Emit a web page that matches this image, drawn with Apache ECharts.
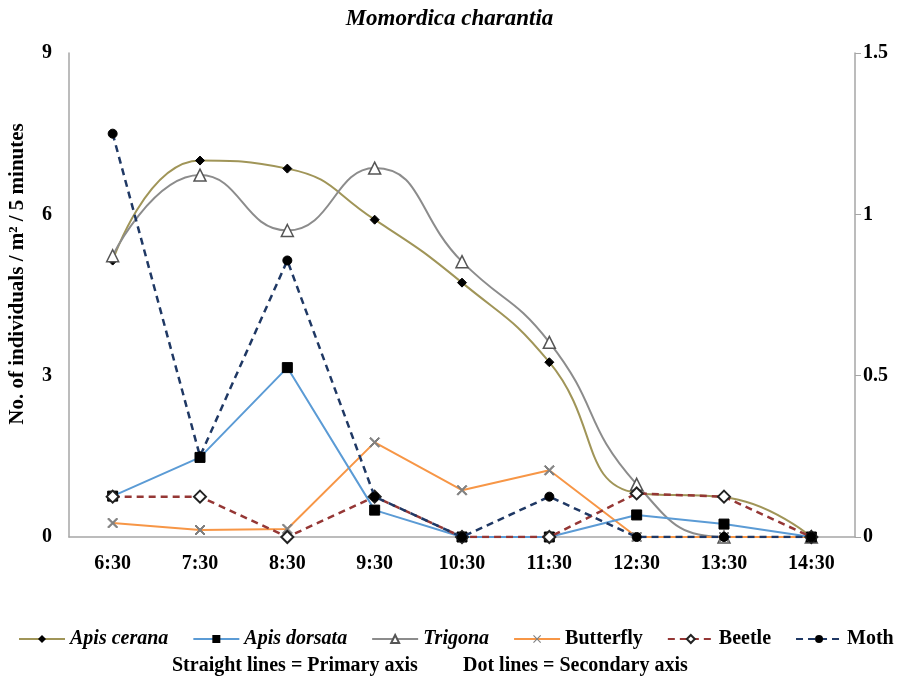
<!DOCTYPE html>
<html>
<head>
<meta charset="utf-8">
<script src="https://cdn.jsdelivr.net/npm/echarts@6/dist/echarts.min.js"></script>
<style>
  html, body { margin: 0; padding: 0; background: #fff; }
  #chart { width: 899px; height: 684px; }
</style>
</head>
<body>
<div id="chart"></div>
<script>
var times = ['6:30', '7:30', '8:30', '9:30', '10:30', '11:30', '12:30', '13:30', '14:30'];

// primary axis (solid lines)
var apisCerana = [5.14, 7.0, 6.85, 5.9, 4.73, 3.25, 0.82, 0.74, 0];
var apisDorsata = [0.76, 1.48, 3.15, 0.5, 0, 0, 0.41, 0.24, 0];
var trigona = [5.23, 6.73, 5.7, 6.86, 5.12, 3.62, 0.98, 0, 0];
var butterfly = [0.26, 0.13, 0.15, 1.76, 0.87, 1.24, 0, 0, 0];

// secondary axis (dashed lines)
var beetle = [0.125, 0.125, 0, 0.125, 0, 0, 0.135, 0.125, 0];
var moth = [1.25, 0.25, 0.857, 0.125, 0, 0.125, 0, 0, 0];

var serif = '"Liberation Serif", "DejaVu Serif", serif';
var crossPath = 'path://M1,0L5,4L9,0L10,1L6,5L10,9L9,10L5,6L1,10L0,9L4,5L0,1Z';

var myChart = echarts.init(document.getElementById('chart'));
var option = {
    animation: false,
    title: {
        text: 'Momordica charantia',
        left: 'center',
        top: 3,
        textStyle: { fontFamily: serif, fontSize: 23, fontWeight: 'bold', fontStyle: 'italic', color: '#000' }
    },
    grid: { left: 69, right: 44, top: 53, bottom: 147 },
    legend: {
        bottom: 30,
        left: 13,
        width: 886,
        itemWidth: 46,
        itemHeight: 10,
        itemGap: 24,
        data: ['Apis cerana', 'Apis dorsata', 'Trigona', 'Butterfly', 'Beetle', 'Moth'],
        formatter: function (name) {
            if (name === 'Butterfly' || name === 'Beetle' || name === 'Moth') return '{b|' + name + '}';
            return '{i|' + name + '}';
        },
        textStyle: {
            fontFamily: serif, fontSize: 20, fontWeight: 'bold', color: '#000',
            rich: {
                i: { fontFamily: serif, fontSize: 20, fontWeight: 'bold', fontStyle: 'italic', color: '#000' },
                b: { fontFamily: serif, fontSize: 20, fontWeight: 'bold', color: '#000' }
            }
        }
    },
    graphic: [
        { type: 'text', left: 172, top: 656, style: { text: 'Straight lines = Primary axis', font: 'bold 20px ' + serif, fill: '#000' } },
        { type: 'text', left: 463, top: 656, style: { text: 'Dot lines = Secondary axis', font: 'bold 20px ' + serif, fill: '#000' } },
        {
            type: 'text', x: 18, y: 274, rotation: Math.PI / 2,
            style: { text: 'No. of individuals / m² / 5 minutes', font: 'bold 21px ' + serif, fill: '#000', align: 'center', verticalAlign: 'middle' }
        }
    ],
    xAxis: {
        type: 'category',
        data: times,
        boundaryGap: true,
        axisLine: { lineStyle: { color: '#a6a6a6', width: 1.5 } },
        axisTick: { show: false },
        axisLabel: { fontFamily: serif, fontSize: 20, fontWeight: 'bold', color: '#000', margin: 17 }
    },
    yAxis: [
        {
            type: 'value', min: 0, max: 9, interval: 3,
            axisLine: { show: true, lineStyle: { color: '#a6a6a6', width: 1.5 } },
            axisTick: { show: false },
            splitLine: { show: false },
            axisLabel: { fontFamily: serif, fontSize: 20, fontWeight: 'bold', color: '#000', margin: 17 }
        },
        {
            type: 'value', min: 0, max: 1.5, interval: 0.5, position: 'right',
            axisLine: { show: true, lineStyle: { color: '#a6a6a6', width: 1.5 } },
            axisTick: { show: true, length: 6, lineStyle: { color: '#a6a6a6' } },
            splitLine: { show: false },
            axisLabel: { fontFamily: serif, fontSize: 20, fontWeight: 'bold', color: '#000', margin: 8 }
        }
    ],
    series: [
        {
            name: 'Apis cerana', type: 'line', yAxisIndex: 0, data: apisCerana, smooth: 0.5,
            symbol: 'diamond', symbolSize: 9,
            lineStyle: { color: '#a09558', width: 2 },
            itemStyle: { color: '#000', borderColor: '#000' }, z: 3
        },
        {
            name: 'Apis dorsata', type: 'line', yAxisIndex: 0, data: apisDorsata,
            symbol: 'rect', symbolSize: 10,
            lineStyle: { color: '#5b9bd5', width: 2 },
            itemStyle: { color: '#000', borderColor: '#000' }, z: 4
        },
        {
            name: 'Trigona', type: 'line', yAxisIndex: 0, data: trigona, smooth: 0.5,
            symbol: 'triangle', symbolSize: 12,
            lineStyle: { color: '#8c8c8c', width: 2 },
            itemStyle: { color: '#fff', borderColor: '#555', borderWidth: 1.5 }, z: 3
        },
        {
            name: 'Butterfly', type: 'line', yAxisIndex: 0, data: butterfly,
            symbol: crossPath, symbolSize: 10,
            lineStyle: { color: '#f79646', width: 2 },
            itemStyle: { color: '#808080', borderColor: '#808080' }, z: 3
        },
        {
            name: 'Beetle', type: 'line', yAxisIndex: 1, data: beetle,
            symbol: 'diamond', symbolSize: 12,
            lineStyle: { color: '#953735', width: 2.5, type: [7, 5] },
            itemStyle: { color: '#fff', borderColor: '#222', borderWidth: 2 }, z: 5
        },
        {
            name: 'Moth', type: 'line', yAxisIndex: 1, data: moth,
            symbol: 'circle', symbolSize: 9,
            lineStyle: { color: '#1f3864', width: 2.5, type: [7, 5] },
            itemStyle: { color: '#000', borderColor: '#000' }, z: 6
        }
    ]
};
myChart.setOption(option);
</script>
</body>
</html>
